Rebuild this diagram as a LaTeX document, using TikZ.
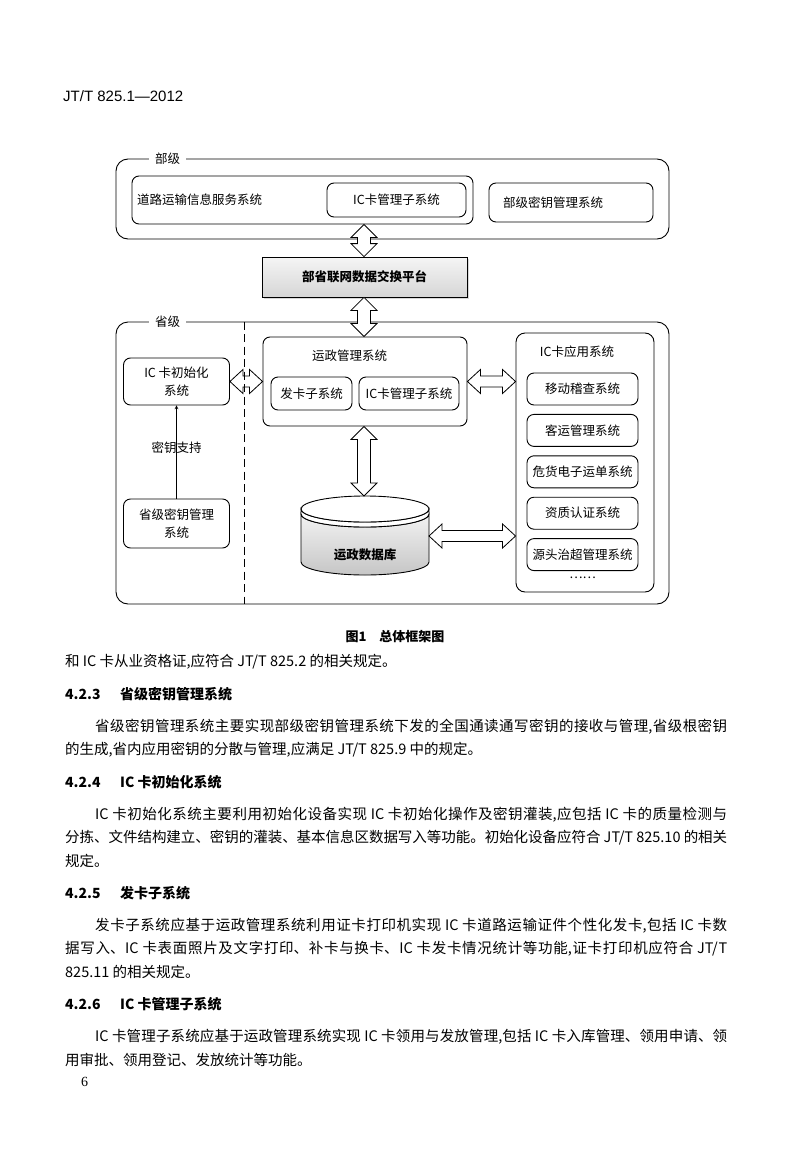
\documentclass[tikz,border=0pt]{standalone}
\usepackage{fontspec}
\setmainfont{Noto Sans CJK SC}
\newfontfamily\headfont{Liberation Sans}
\newfontfamily\pagefont{Liberation Serif}
\usepackage{tikz}
\usetikzlibrary{arrows,positioning,calc,shadows}
\XeTeXlinebreaklocale "zh"
\XeTeXlinebreakskip=0pt plus 2pt minus 1pt

\newcommand{\diafont}{\fontsize{12.5pt}{18.5pt}\selectfont}
\newcommand{\bodyfont}{\fontsize{14.5pt}{20pt}\selectfont}
% one justified line of body text
\newcommand{\fullline}[1]{\noindent\parfillskip=0pt #1\par}

% hollow double arrows between two nodes
\newcommand{\vbigarrow}[2]{%
  \draw[bigarrow] let \p1=(#1), \p2=(#2) in
    (\x1,\y1) -- (\x1+13pt,\y1-13pt) -- (\x1+6.5pt,\y1-13pt) -- (\x1+6.5pt,\y2+13pt)
    -- (\x1+13pt,\y2+13pt) -- (\x1,\y2) -- (\x1-13pt,\y2+13pt) -- (\x1-6.5pt,\y2+13pt)
    -- (\x1-6.5pt,\y1-13pt) -- (\x1-13pt,\y1-13pt) -- cycle;}
\newcommand{\hbigarrow}[2]{%
  \draw[bigarrow] let \p1=(#1), \p2=(#2) in
    (\x1,\y1) -- (\x1+13pt,\y1+12pt) -- (\x1+13pt,\y1+5.5pt) -- (\x2-13pt,\y1+5.5pt)
    -- (\x2-13pt,\y1+12pt) -- (\x2,\y1) -- (\x2-13pt,\y1-12pt) -- (\x2-13pt,\y1-5.5pt)
    -- (\x1+13pt,\y1-5.5pt) -- (\x1+13pt,\y1-12pt) -- cycle;}

\begin{document}
\begin{tikzpicture}[
        x=1pt, y=-1pt,
        group/.style={rectangle, rounded corners=12pt, draw, line width=0.9pt},
        grouptitle/.style={fill=white, inner xsep=6pt, inner ysep=1pt, font=\diafont},
        sysbox/.style={rectangle, rounded corners=7pt, draw, line width=0.9pt, align=center, font=\diafont},
        platformbox/.style={rectangle, draw, line width=0.8pt, top color=gray!8, bottom color=gray!32, drop shadow={shadow xshift=1.5pt, shadow yshift=-1.5pt, fill=gray!60}, font=\diafont\bfseries},
        boxtitle/.style={font=\diafont, inner sep=1pt},
        bigarrow/.style={draw, line width=0.8pt, fill=white, line join=miter},
        relation/.style={->, line width=0.7pt, >=stealth},
        divider/.style={line width=1.1pt, dash pattern=on 8pt off 4.5pt},
        bodyline/.style={anchor=west, inner sep=0pt, font=\bodyfont},
        justline/.style={bodyline, align=justify, text width=#1},
        heading/.style={anchor=west, inner sep=0pt, font=\fontsize{14pt}{18pt}\selectfont\bfseries}
    ]
        \useasboundingbox (0,0) rectangle (800,1164);

        % Header
        \node[anchor=west, inner sep=0pt, font=\headfont\fontsize{15pt}{18pt}\selectfont] (header) at (63,96) {JT/T 825.1—2012};

        % Ministry level
        \node[group, minimum width=553, minimum height=80] (buji) at (392.5,199) {};
        \node[grouptitle] (bujititle) at ([xshift=52pt]buji.north west) {部级};
        \node[sysbox, minimum width=341, minimum height=48, text width=331pt, inner xsep=5pt, align=left] (road) at (302.5,200) {道路运输信息服务系统};
        \node[sysbox, minimum width=139, minimum height=34] (roadic) at (396.5,200) {IC卡管理子系统};
        \node[sysbox, minimum width=164, minimum height=39, text width=136pt, inner xsep=14pt, align=left] (bukey) at (571,202.5) {部级密钥管理系统};

        % Exchange platform
        \node[platformbox, minimum width=205, minimum height=40] (platform) at (364.5,277) {部省联网数据交换平台};

        % Province level
        \node[group, minimum width=553, minimum height=282] (shengji) at (392.5,463) {};
        \node[grouptitle] (shengjititle) at ([xshift=52pt]shengji.north west) {省级};

        \node[sysbox, minimum width=106, minimum height=47] (init) at (176.5,381.5) {IC 卡初始化\\系统};
        \node[sysbox, minimum width=106, minimum height=49] (skey) at (176.5,523.5) {省级密钥管理\\系统};

        % Road administration
        \node[sysbox, minimum width=204, minimum height=89] (yz) at (365,381.5) {};
        \node[boxtitle] (yztitle) at (349.5,356) {运政管理系统};
        \node[sysbox, minimum width=81, minimum height=33, inner sep=1pt] (fk) at (311.5,393.5) {发卡子系统};
        \node[sysbox, minimum width=100, minimum height=33, inner sep=1pt] (yzic) at (409,393.5) {IC卡管理子系统};

        % IC card applications
        \node[sysbox, rounded corners=9pt, minimum width=138, minimum height=259] (app) at (585,462.5) {};
        \node[boxtitle] (apptitle) at (577,352) {IC卡应用系统};
        \node[sysbox, minimum width=111, minimum height=32, inner sep=1pt] (app1) at (582.5,389) {移动稽查系统};
        \node[sysbox, minimum width=111, minimum height=32, inner sep=1pt, below=8.5pt of app1] (app2) {客运管理系统};
        \node[sysbox, minimum width=111, minimum height=32, inner sep=1pt, below=8.5pt of app2] (app3) {危货电子运单系统};
        \node[sysbox, minimum width=111, minimum height=32, inner sep=1pt, below=8.5pt of app3] (app4) {资质认证系统};
        \node[sysbox, minimum width=111, minimum height=32, inner sep=1pt, below=8.5pt of app4] (app5) {源头治超管理系统};
        \node[boxtitle, below=5pt of app5] (appdots) {……};

        % Database
        \shade[top color=gray!10, bottom color=gray!45, draw, line width=0.9pt] (301,514) arc[start angle=180, end angle=360, x radius=64pt, y radius=13pt] -- (429,562) arc[start angle=360, end angle=180, x radius=64pt, y radius=13pt] -- cycle;
        \filldraw[fill=white, line width=0.9pt] (301,509) arc[start angle=180, end angle=360, x radius=64pt, y radius=13pt] -- (429,514) arc[start angle=360, end angle=180, x radius=64pt, y radius=13pt] -- cycle;
        \filldraw[fill=white, line width=0.9pt] (365,509) ellipse[x radius=64pt, y radius=13pt];
        \node[boxtitle, font=\diafont\bfseries] (dblabel) at (365,555) {运政数据库};
        \coordinate (dbtop) at (365,496);
        \coordinate (dbeast) at (429,536);
        \coordinate (axis) at (364,0);

        % Relations
        \vbigarrow{road.south -| axis}{platform.north -| axis}
        \vbigarrow{platform.south -| axis}{yz.north -| axis}
        \vbigarrow{yz.south -| axis}{dbtop -| axis}
        \hbigarrow{init.east}{yz.west}
        \hbigarrow{yz.east}{yz.east -| app.west}
        \hbigarrow{dbeast}{dbeast -| app.west}
        \draw[relation] (skey.north) -- node[boxtitle, pos=0.55] (keylabel) {密钥支持} (init.south);
        \draw[divider] ([xshift=129pt]shengji.north west) -- ([xshift=129pt]shengji.south west);

        % Caption
        \node[font=\fontsize{13pt}{16pt}\selectfont\bfseries, inner sep=0pt] (caption) at (395,637) {图1\hspace{1em}总体框架图};

        % Body text
        \node[bodyline] (txt1) at (65,662) {和 IC 卡从业资格证,应符合 JT/T 825.2 的相关规定。};

        \node[heading] (h423) at (65,694) {\makebox[55pt][l]{4.2.3}省级密钥管理系统};
        \node[justline=632pt] (txt2) at (95,727) {\fullline{省级密钥管理系统主要实现部级密钥管理系统下发的全国通读通写密钥的接收与管理,省级根密钥}};
        \node[bodyline] (txt3) at (65,750) {的生成,省内应用密钥的分散与管理,应满足 JT/T 825.9 中的规定。};

        \node[heading] (h424) at (65,782) {\makebox[55pt][l]{4.2.4}IC 卡初始化系统};
        \node[justline=632pt] (txt4) at (95,815) {\fullline{IC 卡初始化系统主要利用初始化设备实现 IC 卡初始化操作及密钥灌装,应包括 IC 卡的质量检测与}};
        \node[justline=662pt] (txt5) at (65,838) {\fullline{分拣、文件结构建立、密钥的灌装、基本信息区数据写入等功能。初始化设备应符合 JT/T 825.10 的相关}};
        \node[bodyline] (txt6) at (65,861) {规定。};

        \node[heading] (h425) at (65,893) {\makebox[55pt][l]{4.2.5}发卡子系统};
        \node[justline=632pt] (txt7) at (95,926) {\fullline{发卡子系统应基于运政管理系统利用证卡打印机实现 IC 卡道路运输证件个性化发卡,包括 IC 卡数}};
        \node[justline=662pt] (txt8) at (65,949) {\fullline{据写入、IC 卡表面照片及文字打印、补卡与换卡、IC 卡发卡情况统计等功能,证卡打印机应符合 JT/T}};
        \node[bodyline] (txt9) at (65,972) {825.11 的相关规定。};

        \node[heading] (h426) at (65,1004) {\makebox[55pt][l]{4.2.6}IC 卡管理子系统};
        \node[justline=632pt] (txt10) at (95,1037) {\fullline{IC 卡管理子系统应基于运政管理系统实现 IC 卡领用与发放管理,包括 IC 卡入库管理、领用申请、领}};
        \node[bodyline] (txt11) at (65,1060) {用审批、领用登记、发放统计等功能。};

        % Page number
        \node[anchor=west, inner sep=0pt, font=\pagefont\fontsize{14pt}{16pt}\selectfont] (pagenum) at (81,1082) {6};
    \end{tikzpicture}
\end{document}
